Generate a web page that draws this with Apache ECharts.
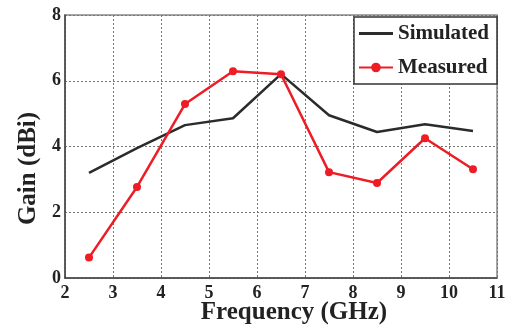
<!DOCTYPE html>
<html>
<head>
<meta charset="utf-8">
<script src="https://cdn.jsdelivr.net/npm/echarts@6/dist/echarts.min.js"></script>
<style>
  html, body { margin: 0; padding: 0; background: #fff; }
  #chart { width: 511px; height: 333px; }
</style>
</head>
<body>
<div id="chart"></div>
<script>
// frequency points (GHz)
const freqs = [2.5, 3.5, 4.5, 5.5, 6.5, 7.5, 8.5, 9.5, 10.5];
// gain values (dBi)
const simulated = [3.2, 3.95, 4.65, 4.86, 6.2, 4.95, 4.44, 4.68, 4.47];
const measured = [0.62, 2.77, 5.29, 6.29, 6.2, 3.22, 2.89, 4.25, 3.31];

const pair = (xs, ys) => xs.map((x, i) => [x, ys[i]]);

const font = '"Liberation Serif", "Times New Roman", serif';
const chart = echarts.init(document.getElementById('chart'));

const gridLine = { show: true, lineStyle: { color: '#777', type: [2, 2], width: 1 } };

chart.setOption({
  backgroundColor: '#fff',
  animation: false,
  grid: {
    left: 65, right: 14, top: 15, bottom: 55,
    outerBoundsMode: 'none', containLabel: false,
    show: true, borderColor: '#888', borderWidth: 1.5
  },
  legend: {
    right: 14, top: 17,
    orient: 'vertical',
    backgroundColor: '#fff',
    borderColor: '#333', borderWidth: 1.5, borderRadius: 0,
    padding: [5, 8, 5, 4],
    itemGap: 11,
    itemWidth: 34, itemHeight: 12,
    textStyle: { fontFamily: font, fontWeight: 'bold', fontSize: 21, lineHeight: 23, color: '#222' },
    data: [
      { name: 'Simulated', icon: 'path://M0,0 L34,0 L34,3 L0,3 Z' },
      'Measured'
    ]
  },
  xAxis: {
    type: 'value', min: 2, max: 11, interval: 1,
    name: 'Frequency (GHz)', nameLocation: 'middle', nameGap: 22, nameMoveOverlap: false,
    nameTextStyle: { fontFamily: font, fontWeight: 'bold', fontSize: 25, color: '#222', padding: [0, 0, 0, 26] },
    axisLine: { show: true, lineStyle: { color: '#444', width: 1.5 } },
    axisTick: { show: false },
    axisLabel: { fontFamily: font, fontWeight: 'bold', fontSize: 18, color: '#222', margin: 6 },
    splitLine: gridLine
  },
  yAxis: {
    type: 'value', min: 0, max: 8, interval: 2,
    name: 'Gain (dBi)', nameLocation: 'middle', nameGap: 24, nameRotate: 90, nameMoveOverlap: false,
    nameTextStyle: { fontFamily: font, fontWeight: 'bold', fontSize: 25, color: '#222', padding: [0, 44, 0, 0] },
    axisLine: { show: true, lineStyle: { color: '#444', width: 1.5 } },
    axisTick: { show: false },
    axisLabel: { fontFamily: font, fontWeight: 'bold', fontSize: 18, color: '#222', margin: 4 },
    splitLine: gridLine
  },
  series: [
    {
      name: 'Simulated', type: 'line',
      data: pair(freqs, simulated),
      symbol: 'none',
      lineStyle: { color: '#2b2b2b', width: 2.5 },
      itemStyle: { color: '#2b2b2b' }
    },
    {
      name: 'Measured', type: 'line',
      data: pair(freqs, measured),
      symbol: 'circle', symbolSize: 8,
      lineStyle: { color: '#ee1c25', width: 2.5 },
      itemStyle: { color: '#ee1c25' }
    }
  ]
});
</script>
</body>
</html>
